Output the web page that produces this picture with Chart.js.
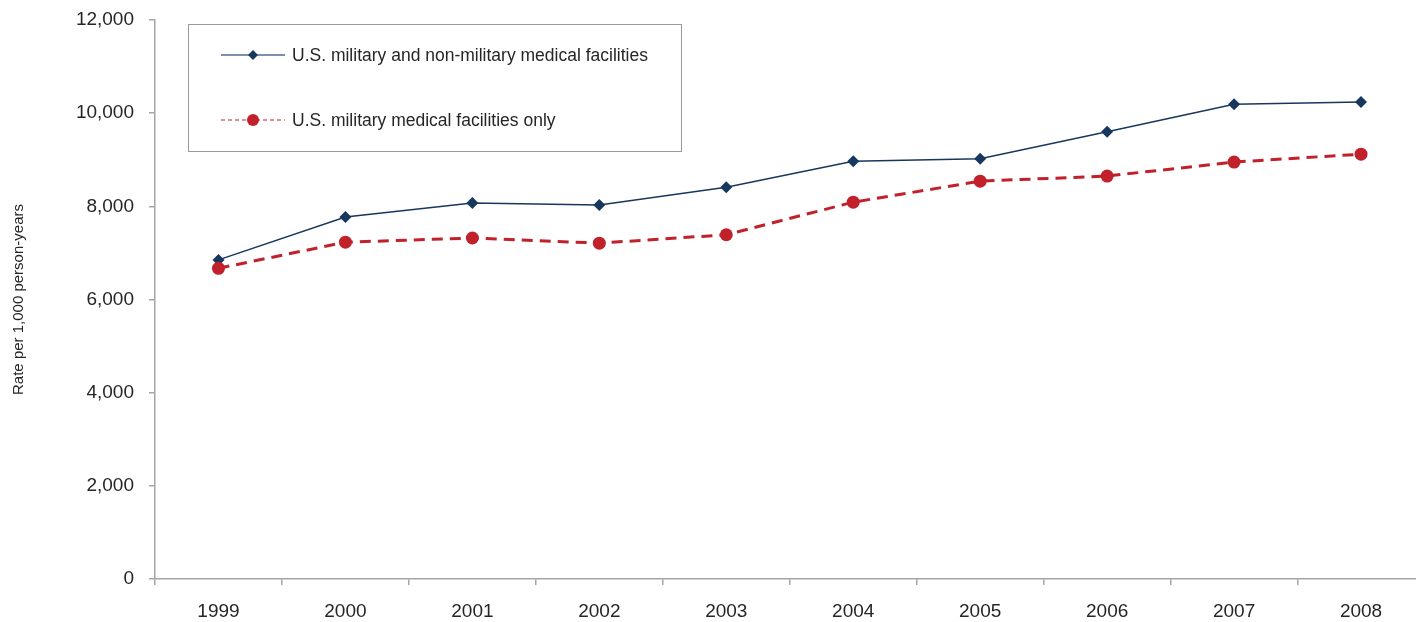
<!DOCTYPE html>
<html>
<head>
<meta charset="utf-8">
<script src="https://cdn.jsdelivr.net/npm/chart.js@4.4.1/dist/chart.umd.min.js"></script>
<style>
html,body{margin:0;padding:0;background:#fff;overflow:hidden;}
#wrap{width:1431px;height:622px;}
</style>
</head>
<body>
<div id="wrap"><canvas id="c" width="1431" height="622"></canvas></div>
<script>
const years = ["1999","2000","2001","2002","2003","2004","2005","2006","2007","2008"];
const allFacilities = [6850, 7770, 8070, 8030, 8410, 8970, 9020, 9600, 10190, 10240];
const militaryOnly = [6670, 7230, 7320, 7210, 7390, 8090, 8540, 8650, 8950, 9120];
const seriesNames = ["U.S. military and non-military medical facilities", "U.S. military medical facilities only"];
const yTicks = [0, 2000, 4000, 6000, 8000, 10000, 12000];

const BLUE = "#17375E";
const RED = "#C0212B";
const AXIS = "#A6A6A6";
const TEXT = "#262626";
const FONT = "'Liberation Sans', Arial, sans-serif";

const legendBox = {
  id: 'legendBox',
  afterDraw(chart) {
    const ctx = chart.ctx;
    ctx.save();
    const x0 = 188.5, y0 = 24.5, w = 493, h = 127;
    ctx.strokeStyle = "#9A9A9A";
    ctx.lineWidth = 1;
    ctx.strokeRect(x0, y0, w, h);
    const rows = [55, 120];
    chart.data.datasets.forEach((ds, i) => {
      const y = rows[i];
      ctx.beginPath();
      ctx.strokeStyle = i === 0 ? "#4F6D8F" : ds.borderColor;
      ctx.lineWidth = i === 0 ? 1.5 : 1;
      ctx.setLineDash(i === 1 ? [4, 3] : []);
      ctx.moveTo(221, y); ctx.lineTo(285, y);
      ctx.stroke();
      ctx.setLineDash([]);
      ctx.fillStyle = ds.pointBackgroundColor;
      ctx.beginPath();
      if (i === 0) {
        ctx.moveTo(253, y - 5); ctx.lineTo(258, y); ctx.lineTo(253, y + 5); ctx.lineTo(248, y);
        ctx.closePath();
      } else {
        ctx.arc(253, y, 6, 0, Math.PI * 2);
      }
      ctx.fill();
      ctx.fillStyle = TEXT;
      ctx.font = "17.5px " + FONT;
      ctx.textBaseline = "middle";
      ctx.textAlign = "left";
      ctx.fillText(ds.label, 292, y + 1);
    });
    ctx.restore();
  }
};

new Chart(document.getElementById('c'), {
  type: 'line',
  data: {
    labels: years,
    datasets: [
      {
        label: seriesNames[0],
        data: allFacilities,
        borderColor: BLUE,
        backgroundColor: BLUE,
        pointBackgroundColor: BLUE,
        pointBorderColor: BLUE,
        borderWidth: 1.5,
        pointStyle: 'rectRot',
        pointRadius: 6,
        pointBorderWidth: 0,
        tension: 0,
        order: 1
      },
      {
        label: seriesNames[1],
        data: militaryOnly,
        borderColor: RED,
        backgroundColor: RED,
        pointBackgroundColor: RED,
        pointBorderColor: RED,
        borderWidth: 3,
        borderDash: [11, 7],
        pointStyle: 'circle',
        pointRadius: 6.5,
        pointBorderWidth: 0,
        tension: 0,
        order: 0
      }
    ]
  },
  options: {
    responsive: false,
    animation: false,
    devicePixelRatio: 1,
    layout: { padding: { top: 20, right: 0, left: 0, bottom: 0 } },
    plugins: { legend: { display: false }, tooltip: { enabled: false } },
    scales: {
      x: {
        type: 'category',
        offset: true,
        grid: { display: true, drawOnChartArea: false, offset: true, tickLength: 6, color: AXIS, lineWidth: 1.5 },
        border: { display: true, color: AXIS, width: 1.5 },
        ticks: { color: TEXT, font: { family: FONT, size: 19 }, padding: 15, maxRotation: 0 },
        afterFit(s) { s.height = 43; }
      },
      y: {
        min: 0, max: 12000,
        afterBuildTicks(s) { s.ticks = yTicks.map(v => ({ value: v })); },
        grid: { display: true, drawOnChartArea: false, tickLength: 6, color: AXIS, lineWidth: 1.5 },
        border: { display: true, color: AXIS, width: 1.5 },
        ticks: {
          color: TEXT, font: { family: FONT, size: 19 }, padding: 15,
          callback: v => v.toLocaleString('en-US')
        },
        title: { display: true, text: 'Rate per 1,000 person-years', color: TEXT, font: { family: FONT, size: 15 }, padding: { top: 10, bottom: 0 } },
        afterFit(s) { s.width = 155; s.paddingTop = 0; s.paddingBottom = 0; }
      }
    }
  },
  plugins: [legendBox]
});
</script>
</body>
</html>
